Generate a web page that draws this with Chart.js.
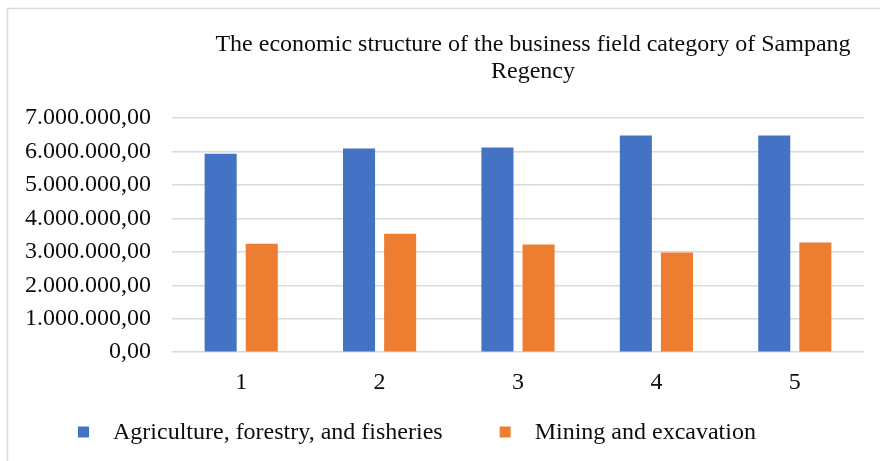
<!DOCTYPE html>
<html>
<head>
<meta charset="utf-8">
<script src="https://cdn.jsdelivr.net/npm/chart.js@4.4.1/dist/chart.umd.min.js"></script>
<style>
  html, body { margin: 0; padding: 0; background: #fff; }
  #wrap { width: 880px; height: 461px; position: relative; }
</style>
</head>
<body>
<div id="wrap"><canvas id="chart" width="880" height="461"></canvas></div>
<script>
const titleLines = ['The economic structure of the business field category of Sampang', 'Regency'];
const categories = ['1', '2', '3', '4', '5'];
const agriculture = [5935000, 6090000, 6120000, 6480000, 6480000];
const mining = [3240000, 3540000, 3220000, 2980000, 3280000];
const seriesNames = ['Agriculture, forestry, and fisheries', 'Mining and excavation'];
const yTicks = [0, 1000000, 2000000, 3000000, 4000000, 5000000, 6000000, 7000000];

const FONT = '"Liberation Serif", "Times New Roman", serif';
const TEXT = '#0d0d0d';

function fmt(v) {
  const s = Math.round(v).toString().replace(/\B(?=(\d{3})+(?!\d))/g, '.');
  return s + ',00';
}

// frame + title + legend, drawn around the chart area
const decor = {
  id: 'decor',
  beforeDraw(chart) {
    const { ctx } = chart;
    ctx.save();
    ctx.fillStyle = '#fff';
    ctx.fillRect(0, 0, chart.width, chart.height);
    ctx.strokeStyle = '#D9D9D9';
    ctx.lineWidth = 1.5;
    ctx.strokeRect(7.5, 8.5, 1000, 1000);
    ctx.restore();
  },
  afterDraw(chart) {
    const { ctx } = chart;
    ctx.save();
    ctx.fillStyle = TEXT;
    ctx.font = '24px ' + FONT;
    ctx.textAlign = 'center';
    ctx.textBaseline = 'alphabetic';
    titleLines.forEach((t, i) => ctx.fillText(t, 533, 51 + i * 27));

    // legend
    ctx.textAlign = 'left';
    ctx.textBaseline = 'middle';
    let x = 78;
    const y = 432;
    chart.data.datasets.forEach((ds) => {
      ctx.fillStyle = ds.backgroundColor;
      ctx.fillRect(x, y - 5.5, 11, 11);
      ctx.fillStyle = TEXT;
      ctx.fillText(ds.label, x + 35, y + 1);
      x += 35 + ctx.measureText(ds.label).width + 57;
    });
    ctx.restore();
  },
};

new Chart(document.getElementById('chart'), {
  type: 'bar',
  data: {
    labels: categories,
    datasets: [
      { label: seriesNames[0], data: agriculture, backgroundColor: '#4472C4', categoryPercentage: 0.594, barPercentage: 0.78 },
      { label: seriesNames[1], data: mining, backgroundColor: '#ED7D31', categoryPercentage: 0.594, barPercentage: 0.78 },
    ],
  },
  options: {
    responsive: false,
    animation: false,
    layout: { padding: { top: 118, right: 16, bottom: 56, left: 4 } },
    plugins: {
      legend: { display: false },
      title: { display: false },
      tooltip: { enabled: false },
    },
    scales: {
      x: {
        grid: { display: false },
        border: { display: false },
        ticks: { color: TEXT, font: { family: FONT, size: 24 }, padding: 8 },
      },
      y: {
        min: 0,
        max: 7000000,
        afterBuildTicks(axis) { axis.ticks = yTicks.map((v) => ({ value: v })); },
        grid: { color: '#D9D9D9', lineWidth: 1.5, drawTicks: false },
        border: { display: false },
        ticks: {
          color: TEXT,
          autoSkip: false,
          font: { family: FONT, size: 24 },
          padding: 21,
          callback: (v) => fmt(v),
        },
      },
    },
  },
  plugins: [decor],
});
</script>
</body>
</html>
